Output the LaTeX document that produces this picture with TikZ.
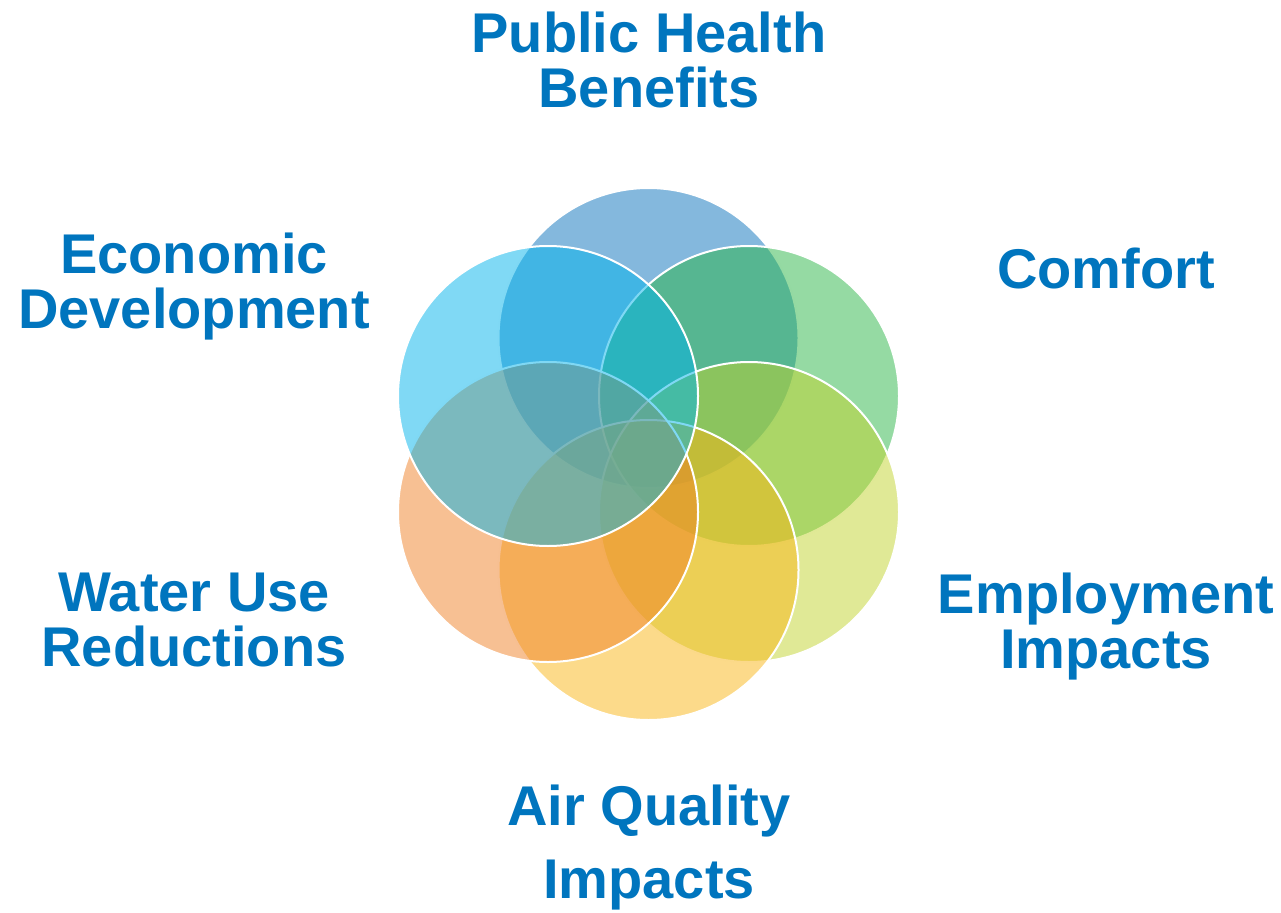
\documentclass[tikz,border=0pt]{standalone}
\usepackage{fontspec}
\setmainfont{Liberation Sans}
\usepackage{xcolor}
\usetikzlibrary{positioning}

\definecolor{textblue}{RGB}{0,117,190}
\definecolor{healthblue}{RGB}{9,113,187}
\definecolor{comfortgreen}{RGB}{43,181,71}
\definecolor{employgreen}{RGB}{193,211,45}
\definecolor{airyellow}{RGB}{249,181,21}
\definecolor{waterorange}{RGB}{239,129,39}
\definecolor{econcyan}{RGB}{1,179,235}

\begin{document}
\begin{tikzpicture}[x=1pt, y=-1pt,
  petal/.style={circle, minimum size=300pt, inner sep=0pt, draw=white, line width=2pt, fill opacity=0.5},
  topic/.style={text=textblue, font=\fontsize{56}{55}\selectfont\bfseries, align=center, inner sep=0pt, anchor=north}]
\useasboundingbox (0,0) rectangle (1281,912);

% circles, drawn clockwise from the top
\node[petal, fill=healthblue] (health) at (648.5,338) {};
\node[petal, fill=comfortgreen] (comfort) at (749,396) {};
\node[petal, fill=employgreen] (employ) at (749,512) {};
\node[petal, fill=airyellow] (air) at (648.5,570) {};
\node[petal, fill=waterorange] (water) at (548,512) {};
\node[petal, fill=econcyan] (econ) at (548,396) {};

% labels
\node[topic] (healthlbl) at (649,12) {Public Health\\Benefits};
\node[topic] (comfortlbl) at (1106,248) {Comfort};
\node[topic] (employlbl) at (1106,573) {Employment\\Impacts};
\node[topic] (airlbl) at (649,785) {Air Quality\\[18pt]Impacts};
\node[topic] (waterlbl) at (194,573) {Water Use\\Reductions};
\node[topic] (econlbl) at (194,233) {Economic\\Development};
\end{tikzpicture}
\end{document}
